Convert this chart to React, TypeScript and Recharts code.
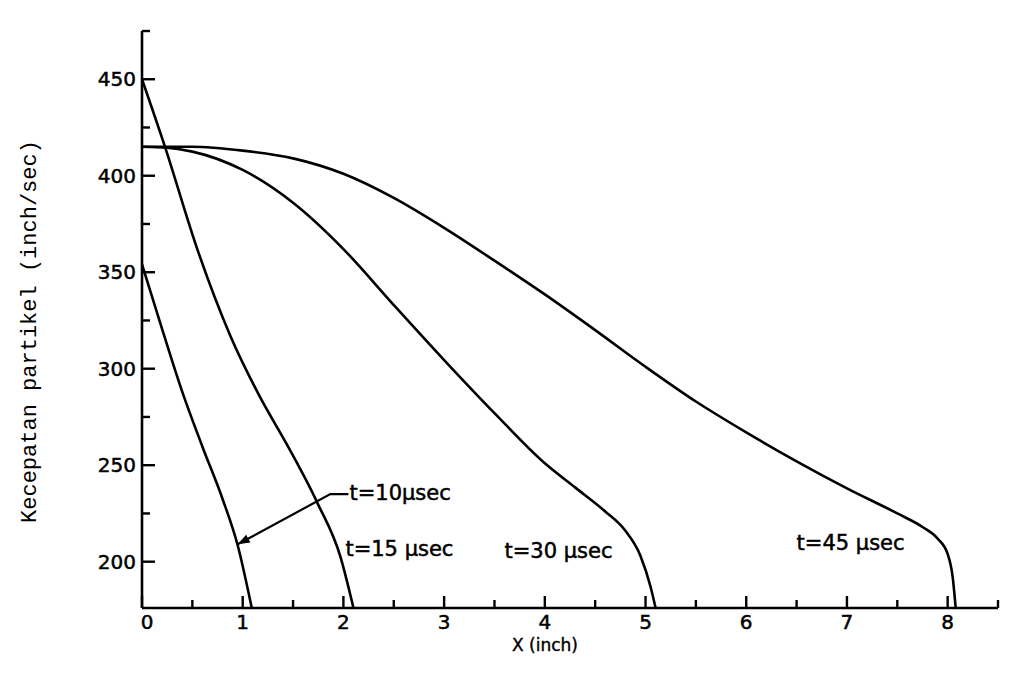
import React from 'react';
import { LineChart, Line, XAxis, YAxis, ReferenceDot } from 'recharts';

// t = 10 µsec curve (leftmost)
const t10X = [0, 0.2, 0.4, 0.6, 0.8, 0.95, 1.09];
const t10V = [354, 320.5, 288, 259.6, 232.5, 208.5, 176];

// t = 15 µsec curve
const t15X = [0, 0.23, 0.55, 0.88, 1.17, 1.44, 1.74, 1.97, 2.1];
const t15V = [450, 414.7, 361.8, 316.7, 285.5, 260.6, 230.6, 202.6, 176];

// t = 30 µsec curve
const t30X = [0, 0.25, 0.5, 1.0, 1.5, 2.0, 2.5, 3.0, 3.5, 4.0, 4.3, 4.6, 4.8, 4.95, 5.05, 5.1];
const t30V = [415, 414.5, 412.5, 403, 386, 362, 333, 304.5, 277, 251, 238.5, 226, 216, 203, 187, 176];

// t = 45 µsec curve
const t45X = [0, 0.5, 1.0, 1.5, 2.0, 2.5, 3.0, 3.5, 4.0, 4.5, 5.0, 5.5, 6.0, 6.5, 7.0, 7.5, 7.75, 7.9, 8.0, 8.05, 8.08];
const t45V = [415, 415, 413, 409, 401, 388.5, 373, 356, 338.5, 320, 301, 283, 267, 252, 238, 225, 218, 212, 204, 192, 176];

// leader line from the "t=10 µsec" label to the t=10 curve
const leaderX = [2.05, 1.87, 0.95];
const leaderV = [235, 235, 209];

// curve annotations
const annText = ['t=10\u00b5sec', 't=15 \u00b5sec', 't=30 \u00b5sec', 't=45 \u00b5sec'];
const annX = [2.06, 2.02, 3.6, 6.5];
const annV = [232, 203, 202, 206];

const xTicks = [0, 0.5, 1, 1.5, 2, 2.5, 3, 3.5, 4, 4.5, 5, 5.5, 6, 6.5, 7, 7.5, 8, 8.5];
const xTickLabels = ['0', '1', '2', '3', '4', '5', '6', '7', '8'];
const yTicks = [200, 225, 250, 275, 300, 325, 350, 375, 400, 425, 450, 475];
const yTickLabels = ['200', '250', '300', '350', '400', '450'];

const xTitle = 'X (inch)';
const yTitle = 'Kecepatan partikel (inch/sec)';

const toPts = (xs: number[], vs: number[]) => xs.map((x, i) => ({ x, v: vs[i] }));

const INK = '#000';
const LETTER = '"DejaVu Sans", sans-serif';

const XTick = (props: any) => {
  const { x, y, payload } = props;
  const val = payload.value as number;
  const major = Number.isInteger(val);
  const label = major ? xTickLabels[val] : null;
  return (
    <g>
      <line x1={x} y1={y} x2={x} y2={y - (major ? 12 : 8)} stroke={INK} strokeWidth={2.4} />
      {label !== null && label !== undefined && (
        <text x={x + (val === 0 ? 5 : 0)} y={y + 21} textAnchor="middle" fontFamily={LETTER} fontSize={20} fill={INK} stroke={INK} strokeWidth={0.5}>
          {label}
        </text>
      )}
    </g>
  );
};

const YTick = (props: any) => {
  const { x, y, payload } = props;
  const val = payload.value as number;
  const major = val % 50 === 0 && val <= 450;
  const label = major ? yTickLabels[(val - 200) / 50] : null;
  return (
    <g>
      <line x1={x} y1={y} x2={x + (major ? 13 : 8)} y2={y} stroke={INK} strokeWidth={2.4} />
      {label && (
        <text x={x - 6} y={y + 7} textAnchor="end" fontFamily={LETTER} fontSize={20} fill={INK} stroke={INK} strokeWidth={0.5}>
          {label}
        </text>
      )}
    </g>
  );
};

const AnnShape = (text: string) => (p: any) => (
  <text x={p.cx} y={p.cy} textAnchor="start" fontFamily={LETTER} fontSize={21} fill={INK} stroke={INK} strokeWidth={0.5}>
    {text}
  </text>
);

const ArrowHead = (p: any) => {
  const { cx, cy } = p;
  const ang = Math.atan2(50, -93);
  const len = 12;
  const w = 4.5;
  const bx = cx - Math.cos(ang) * len;
  const by = cy - Math.sin(ang) * len;
  const nx = -Math.sin(ang) * w;
  const ny = Math.cos(ang) * w;
  return <polygon points={`${cx},${cy} ${bx + nx},${by + ny} ${bx - nx},${by - ny}`} fill={INK} />;
};

const YTitle = (p: any) => {
  const vb = p.viewBox || { x: 82, y: 31, width: 60, height: 577 };
  const cx = 30;
  const cy = vb.y + vb.height / 2 + 12;
  return (
    <text
      x={cx}
      y={cy}
      transform={`rotate(-90 ${cx} ${cy})`}
      textAnchor="middle"
      dominantBaseline="central"
      fontFamily='"Liberation Mono", "DejaVu Sans Mono", monospace'
      fontSize={22}
      fill={INK}
    >
      {yTitle}
    </text>
  );
};

const XTitle = () => (
  <text x={545} y={651} textAnchor="middle" fontFamily={LETTER} fontSize={17} fill={INK} stroke={INK} strokeWidth={0.4}>
    {xTitle}
  </text>
);

export default function App() {
  return (
    <div style={{ position: 'absolute', left: 0, top: 0, width: 1033, height: 689, background: '#fff' }}>
      <LineChart width={1033} height={689} margin={{ top: 31, right: 35, bottom: 41, left: 82 }}>
        <XAxis
          dataKey="x"
          type="number"
          domain={[0, 8.5]}
          ticks={xTicks}
          interval={0}
          tickSize={0}
          tickMargin={0}
          tickLine={false}
          tick={<XTick />}
          axisLine={{ stroke: INK, strokeWidth: 2.6 }}
          height={40}
          allowDataOverflow
          label={{ content: <XTitle /> } as any}
        />
        <YAxis
          dataKey="v"
          type="number"
          domain={[176, 475]}
          ticks={yTicks}
          interval={0}
          tickSize={0}
          tickMargin={0}
          tickLine={false}
          tick={<YTick />}
          axisLine={{ stroke: INK, strokeWidth: 2.6 }}
          width={60}
          allowDataOverflow
          label={{ content: <YTitle /> } as any}
        />
        <Line data={toPts(t10X, t10V)} dataKey="v" type="monotone" stroke={INK} strokeWidth={2.6} dot={false} isAnimationActive={false} />
        <Line data={toPts(t15X, t15V)} dataKey="v" type="monotone" stroke={INK} strokeWidth={2.6} dot={false} isAnimationActive={false} />
        <Line data={toPts(t30X, t30V)} dataKey="v" type="monotone" stroke={INK} strokeWidth={2.6} dot={false} isAnimationActive={false} />
        <Line data={toPts(t45X, t45V)} dataKey="v" type="monotone" stroke={INK} strokeWidth={2.6} dot={false} isAnimationActive={false} />
        <Line data={toPts(leaderX, leaderV)} dataKey="v" type="linear" stroke={INK} strokeWidth={2.2} dot={false} isAnimationActive={false} />
        <ReferenceDot x={leaderX[2]} y={leaderV[2]} r={4} shape={ArrowHead} ifOverflow="visible" />
        {annText.map((t, i) => (
          <ReferenceDot key={t} x={annX[i]} y={annV[i]} r={1} shape={AnnShape(t)} ifOverflow="visible" />
        ))}
      </LineChart>
    </div>
  );
}
